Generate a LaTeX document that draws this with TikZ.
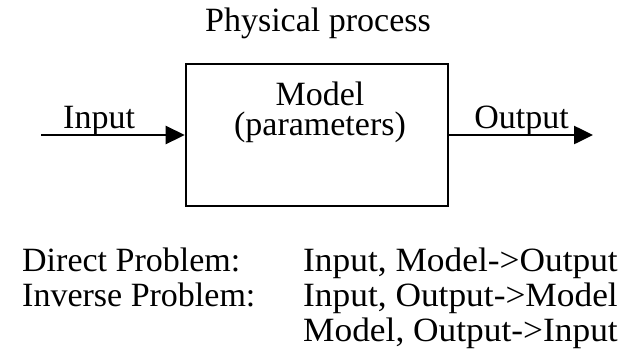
\documentclass[tikz,border=0pt]{standalone}
\usepackage{fontspec}
\setmainfont{Liberation Serif}
\newfontfamily\widefont[FakeStretch=1.04]{Liberation Serif}
\usepackage{tikz}
\usetikzlibrary{arrows.meta, positioning}
\tikzset{txt/.style={inner sep=0pt, font=\fontsize{34}{30}\selectfont},
    widetxt/.style={inner sep=0pt, font=\widefont\fontsize{34}{30}\selectfont},
    box/.style={draw=black, line width=2.6pt, minimum width=262pt, minimum height=142pt, inner sep=0pt},
    flow/.style={line width=2.6pt, -{Triangle[length=19pt,width=18pt]}}}
\begin{document}
\begin{tikzpicture}[x=1pt, y=-1pt]
    \useasboundingbox (0,0) rectangle (624,354);
    \node[txt, anchor=base](title) at (318,31) {Physical process};
    \node[box](model) at (317,135) {};
    \node[txt, align=center, anchor=north](mdl) at (320,82) {Model\\(parameters)};
    \coordinate(in) at (41,135);
    \coordinate(out) at (593,135);
    \draw[flow](in)--(model.west);
    \draw[flow](model.east)--(out);
    \node[txt, anchor=base west](inlbl) at (63,128) {Input};
    \node[txt, anchor=base east](outlbl) at (569,128) {Output};
    \node[txt, anchor=base west](dir) at (22,271) {Direct Problem:};
    \node[txt, anchor=base west](inv) at (22,306) {Inverse Problem:};
    \node[widetxt, anchor=base west](dira) at (303,271) {Input, Model->Output};
    \node[widetxt, anchor=base west](inva) at (303,306) {Input, Output->Model};
    \node[widetxt, anchor=base west](invb) at (303,341) {Model, Output->Input};
    \end{tikzpicture}
\end{document}
